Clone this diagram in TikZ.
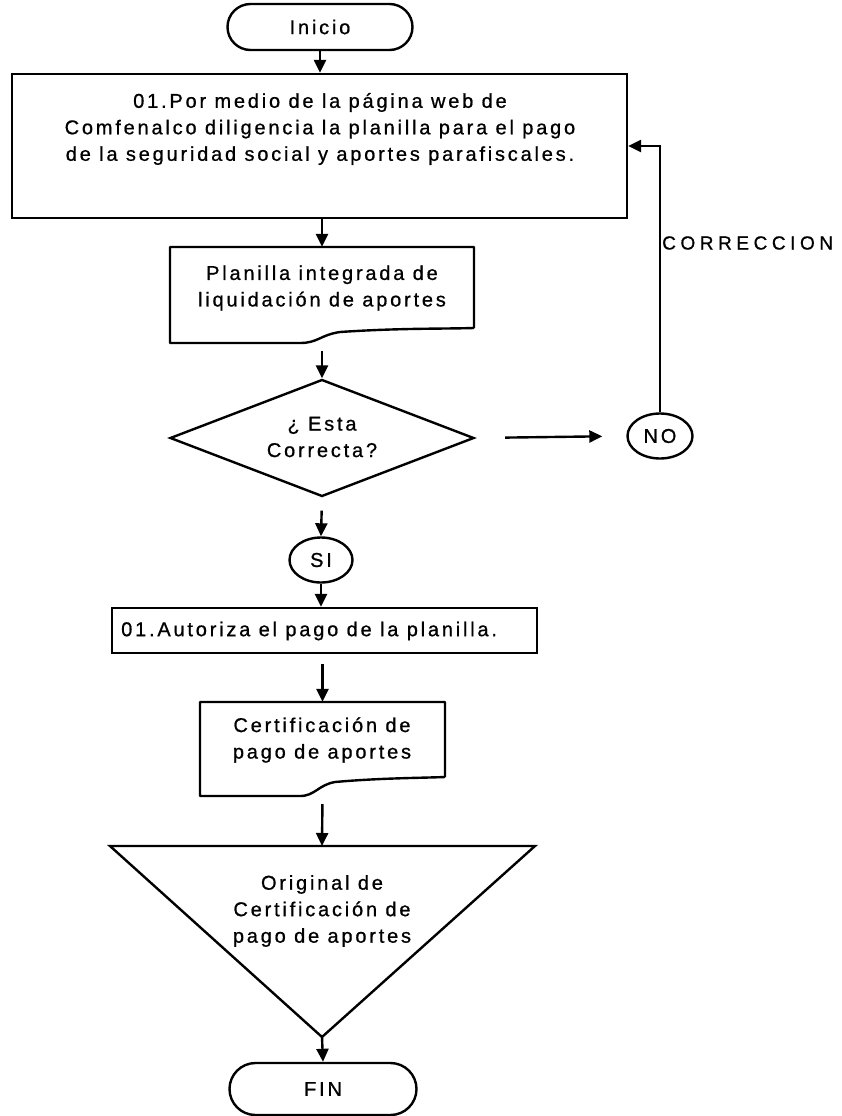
\documentclass[tikz,border=0pt]{standalone}
\usepackage{fontspec}
\setmainfont{Liberation Sans}[LetterSpace=14, FakeBold=0.8]
\usetikzlibrary{shapes.geometric,shapes.misc,arrows.meta,calc}
\begin{document}
\begin{tikzpicture}[x=1pt,y=-1pt,
  outline/.style={draw=black, line width=2.4pt},
  txt/.style={font=\fontsize{20}{26.5}\selectfont, align=center, inner sep=0pt},
  terminal/.style={outline, rounded rectangle, txt},
  processbox/.style={outline, rectangle, inner sep=0pt},
  frame/.style={rectangle, inner sep=0pt},
  bubble/.style={outline, ellipse, inner sep=0pt, txt},
  flow/.style={line width=2.4pt, -{Triangle[length=13pt,width=12pt]}}]

\fill[white] (0,0) rectangle (841,1116);
\useasboundingbox (0,0) rectangle (841,1116);

% start
\node[terminal, minimum width=185pt, minimum height=46pt] (inicio) at (320,27) {Inicio};

% step 1: filling in the form
\node[processbox, minimum width=615pt, minimum height=144pt] (registro) at (319.5,146) {};
\node[txt] (registrotxt) at (320,129)
  {01.Por medio de la página web de\\Comfenalco diligencia la planilla para el pago\\de la seguridad social y aportes parafiscales.};

% document: integrated form
\node[frame, minimum width=304pt, minimum height=96pt] (planilla) at (322,295) {};
\draw[outline, line join=round] (474,328) -- (474,247) -- (170,247) -- (170,343) -- (300,343)
  .. controls (318,343) and (320,335) .. (340,332)
  .. controls (400,328) and (440,329) .. (474,328);
\node[txt] (planillatxt) at (322,288) {Planilla integrada de\\liquidación de aportes};

% decision
\node[outline, diamond, minimum width=304pt, minimum height=117pt, inner sep=0pt] (revision) at (322,438) {};
\node[txt] (revisiontxt) at (322,437) {¿ Esta\\Correcta?};

\node[bubble, minimum width=65pt, minimum height=45pt] (no) at (660,436) {NO};
\node[bubble, minimum width=63pt, minimum height=45pt] (si) at (321,560) {SI};

% step 2: authorise payment
\node[processbox, minimum width=425pt, minimum height=45pt] (autoriza) at (324.5,630.5) {};
\node[txt, anchor=west] (autorizatxt) at (121,631) {01.Autoriza el pago de la planilla.};

% document: payment certificate
\node[frame, minimum width=245pt, minimum height=94pt] (certif) at (322.5,749) {};
\draw[outline, line join=round] (445,777) -- (445,702) -- (200,702) -- (200,796) -- (300,796)
  .. controls (315,796) and (318,785) .. (335,782)
  .. controls (380,778) and (420,778) .. (445,777);
\node[txt] (certiftxt) at (322,740) {Certificación de\\pago de aportes};

% archive: original certificate
\coordinate (tl) at (110,846);
\coordinate (tr) at (535,846);
\coordinate (apex) at (322,1037);
\coordinate (tritop) at (322,846);
\draw[outline, line join=miter] (tl) -- (tr) -- (apex) -- cycle;
\node[txt] (archivotxt) at (322,911) {Original de\\Certificación de\\pago de aportes};

% end
\node[terminal, minimum width=187pt, minimum height=52pt] (fin) at (323,1089) {FIN};

% connectors
\draw[flow] (inicio.south) -- (inicio.south |- registro.north);
\draw[flow] (registro.south -| planilla.north) -- (planilla.north);
\draw[flow, shorten <=8pt] (planilla.south) -- (revision.north);
\draw[flow, shorten <=30pt, shorten >=24pt] (revision.east) -- (no.west);
\draw[flow] (no.north) |- (registro.east);
\node[anchor=west, font=\fontsize{19}{22}\selectfont\addfontfeature{LetterSpace=24}, inner sep=0pt] (correccion) at (662,243) {CORRECCION};
\draw[flow, shorten <=13pt] (revision.south) -- (si.north);
\draw[flow] (si.south) -- (si.south |- autoriza.north);
\draw[flow, shorten <=10pt] (autoriza.south -| certif.north) -- (certif.north);
\draw[flow, shorten <=8pt] (certif.south) -- (tritop);
\draw[flow] (apex) -- (fin.north);
\end{tikzpicture}
\end{document}
